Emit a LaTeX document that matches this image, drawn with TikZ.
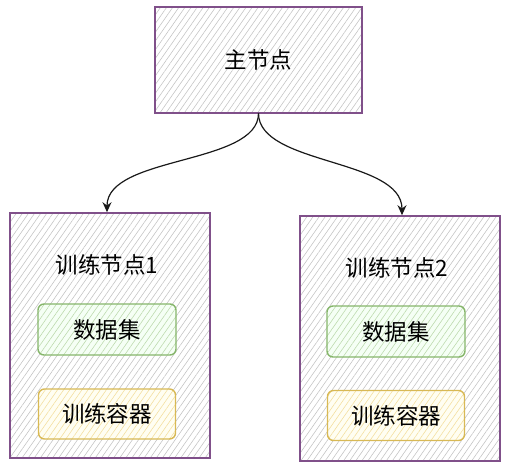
\documentclass[tikz,border=0pt]{standalone}
\usepackage{fontspec}
\setmainfont{Noto Sans CJK SC}
\usepackage{tikz}
\usetikzlibrary{arrows.meta,patterns.meta}
\definecolor{lila}{HTML}{80508A}
\definecolor{grauschraffur}{HTML}{C2C2C2}
\definecolor{gruenrand}{HTML}{86B66B}
\definecolor{gruenschraffur}{HTML}{BAD8AA}
\definecolor{gelbrand}{HTML}{D8B955}
\definecolor{gelbschraffur}{HTML}{F3DE9C}
\tikzset{
  kasten/.style={draw=lila,line width=1.6pt,preaction={fill=white},
    pattern={Lines[angle=55,distance=5pt,line width=0.55pt]},pattern color=grauschraffur},
  daten/.style={draw=gruenrand,line width=1.4pt,rounded corners=6pt,preaction={fill=green!4},
    pattern={Lines[angle=55,distance=5pt,line width=0.55pt]},pattern color=gruenschraffur,
    minimum width=138pt,minimum height=51pt},
  container/.style={draw=gelbrand,line width=1.4pt,rounded corners=6pt,preaction={fill=yellow!5},
    pattern={Lines[angle=55,distance=5pt,line width=0.55pt]},pattern color=gelbschraffur,
    minimum width=137pt,minimum height=50pt},
  pfeil/.style={draw=black!90,line width=1.2pt,-{Stealth[length=10pt,width=9pt]}}
}

\begin{document}
\begin{tikzpicture}[x=1pt,y=-1pt,font=\fontsize{22.5pt}{26pt}\selectfont]
  \useasboundingbox (0,0) rectangle (512,472);
  \draw (258.5,60) node[kasten,minimum width=207pt,minimum height=106pt] (hauptknoten) {主节点};
  % linker Trainingsknoten
  \draw (110,335.5) node[kasten,minimum width=200pt,minimum height=245pt] (knoten1) {}
  ++(-3,-70.5) node (titel1) {训练节点1}
  ++(0,64.5) node[daten] (daten1) {数据集}
  ++(0,84.5) node[container] (container1) {训练容器}
  ;
  % rechter Trainingsknoten
  \draw (400,338.5) node[kasten,minimum width=200pt,minimum height=245pt] (knoten2) {}
  ++(-3,-70.5) node (titel2) {训练节点2}
  ++(-1,63.5) node[daten] (daten2) {数据集}
  ++(0,84) node[container] (container2) {训练容器}
  ;
  \draw[pfeil] (hauptknoten.south) .. controls +(0,52) and +(0,-57) .. ([xshift=-3pt]knoten1.north);
  \draw[pfeil] (hauptknoten.south) .. controls +(0,52) and +(0,-57) .. ([xshift=2pt]knoten2.north);
\end{tikzpicture}
\end{document}
